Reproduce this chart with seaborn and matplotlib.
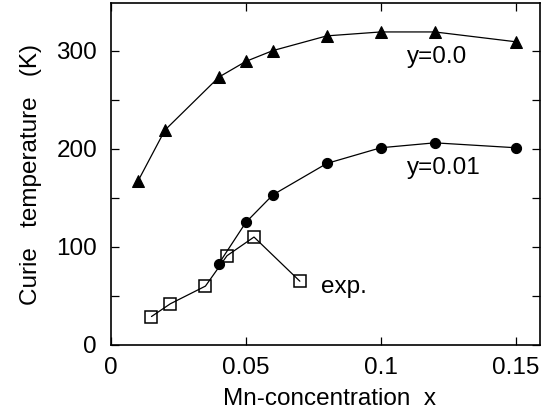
import matplotlib
matplotlib.use("Agg")
import matplotlib.pyplot as plt
import seaborn as sns
import pandas as pd

# Data
x_y00 = [0.01, 0.02, 0.04, 0.05, 0.06, 0.08, 0.10, 0.12, 0.15]
tc_y00 = [167, 219, 273, 289, 300, 315, 319, 319, 309]

x_y001 = [0.04, 0.05, 0.06, 0.08, 0.10, 0.12, 0.15]
tc_y001 = [83, 125, 153, 185, 201, 206, 201]

x_exp = [0.015, 0.022, 0.035, 0.043, 0.053, 0.070]
tc_exp = [29, 42, 60, 91, 110, 65]

x_ticks = [0, 0.05, 0.10, 0.15]
x_ticklabels = ["0", "0.05", "0.1", "0.15"]
y_ticks = [0, 100, 200, 300]

sns.set_style("ticks")
plt.rcParams['font.family'] = ['Liberation Sans', 'DejaVu Sans']
plt.rcParams['text.color'] = 'black'
plt.rcParams['axes.labelcolor'] = 'black'
plt.rcParams['xtick.color'] = 'black'
plt.rcParams['ytick.color'] = 'black'

FS = 17.5

fig = plt.figure(figsize=(5.42, 4.15), dpi=100)
ax = fig.add_axes([0.2048, 0.1687, 0.7915, 0.8229])

df0 = pd.DataFrame({"x": x_y00, "T": tc_y00})
df1 = pd.DataFrame({"x": x_y001, "T": tc_y001})
df2 = pd.DataFrame({"x": x_exp, "T": tc_exp})

sns.lineplot(data=df0, x="x", y="T", ax=ax, color="black", linewidth=0.9,
             marker="^", markersize=8.3, markeredgecolor="black", markerfacecolor="black")
sns.lineplot(data=df1, x="x", y="T", ax=ax, color="black", linewidth=0.9,
             marker="o", markersize=7.3, markeredgecolor="black", markerfacecolor="black")
sns.lineplot(data=df2, x="x", y="T", ax=ax, color="black", linewidth=0.9,
             marker="s", markersize=8.5, markeredgecolor="black", markerfacecolor="none",
             markeredgewidth=1.1)

ax.set_xlim(0, 0.159)
ax.set_ylim(0, 348)
ax.set_xticks(x_ticks)
ax.set_xticklabels(x_ticklabels)
ax.set_yticks(y_ticks)
ax.set_yticks([50, 150, 250], minor=True)
ax.tick_params(axis="both", which="both", direction="in", top=True, right=True,
               length=6, width=0.9, labelsize=FS, color="black", labelcolor="black")
ax.tick_params(axis="x", pad=9)
ax.tick_params(axis="y", pad=10)
for s in ax.spines.values():
    s.set_visible(True)
    s.set_linewidth(1.2)
    s.set_color("black")

ax.set_xlabel("Mn-concentration  x", fontsize=FS, labelpad=6)
ax.xaxis.label.set_x(0.51)
ax.set_ylabel("Curie   temperature   (K)", fontsize=FS, labelpad=10)

ax.text(0.1096, 293, "y=0.0", fontsize=FS, va="center", ha="left")
ax.text(0.1096, 180, "y=0.01", fontsize=FS, va="center", ha="left")
ax.text(0.078, 59, "exp.", fontsize=FS, va="center", ha="left")

fig.savefig("out.png", dpi=100)
